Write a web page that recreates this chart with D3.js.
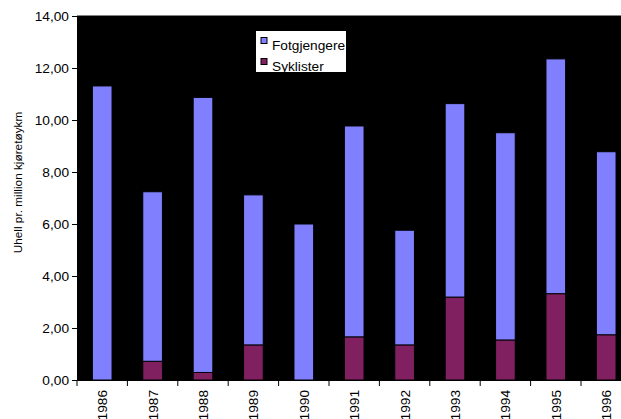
<!DOCTYPE html>
<html>
<head>
<meta charset="utf-8">
<script src="https://cdn.jsdelivr.net/npm/d3@7"></script>
<style>
  html, body { margin: 0; padding: 0; background: #fff; }
  svg { display: block; font-family: "Liberation Sans", Arial, sans-serif; }
</style>
</head>
<body>
<svg id="chart" width="621" height="419"></svg>
<script>
const years = ["1986","1987","1988","1989","1990","1991","1992","1993","1994","1995","1996"];
const fotgjengere = [11.31, 6.52, 10.58, 5.77, 6.00, 8.11, 4.41, 7.44, 7.97, 9.03, 7.04];
const syklister = [0, 0.72, 0.29, 1.35, 0, 1.66, 1.35, 3.19, 1.54, 3.32, 1.74];
const seriesNames = ["Syklister", "Fotgjengere"];
const yTicks = [0, 2, 4, 6, 8, 10, 12, 14];
const yTitle = "Uhell pr. million kjøretøykm";

const colors = { "Fotgjengere": "#8080FF", "Syklister": "#802060" };

const svg = d3.select("#chart");
const pLeft = 77, pRight = 631.4, pTop = 16, pBottom = 380;

const x = d3.scaleBand().domain(years).range([pLeft, pRight]).paddingInner(0.61).paddingOuter(0.305);
const y = d3.scaleLinear().domain([0, 14]).range([pBottom, pTop]);

const table = years.map((yr, i) => ({ year: yr, Syklister: syklister[i], Fotgjengere: fotgjengere[i] }));
const stacked = d3.stack().keys(seriesNames)(table);

// plot background
svg.append("rect").attr("x", pLeft).attr("y", pTop).attr("width", pRight - pLeft).attr("height", pBottom - pTop).attr("fill", "#000");
svg.append("line").attr("x1", pLeft).attr("x2", pRight).attr("y1", pTop - 0.5).attr("y2", pTop - 0.5).attr("stroke", "#808080").attr("stroke-width", 1);

// bars
svg.append("g").selectAll("g").data(stacked).join("g")
  .attr("fill", d => colors[d.key])
  .selectAll("rect").data(d => d).join("rect")
  .attr("x", d => x(d.data.year))
  .attr("width", x.bandwidth())
  .attr("y", d => y(d[1]))
  .attr("height", d => Math.max(0, y(d[0]) - y(d[1])))
  .attr("stroke", "#000")
  .attr("stroke-width", 1);

// y axis
const fmt = v => d3.format(".2f")(v).replace(".", ",");
const yAxis = svg.append("g").attr("transform", `translate(${pLeft},0)`)
  .call(d3.axisLeft(y).tickValues(yTicks).tickFormat(fmt).tickSize(5).tickPadding(3));
yAxis.attr("font-family", "Liberation Sans, Arial, sans-serif");
yAxis.select(".domain").attr("stroke", "#000");
yAxis.selectAll("text").attr("font-size", "13.7px").attr("fill", "#000");

// x axis
const xAxis = svg.append("g").attr("transform", `translate(0,${pBottom})`)
  .call(d3.axisBottom(x).tickSize(0).tickFormat(""));
xAxis.select(".domain").attr("stroke", "#000");
// category boundary ticks
const step = x.step();
const boundaries = years.map((yr, i) => pLeft + i * step);
svg.append("g").selectAll("line").data(boundaries).join("line")
  .attr("x1", d => d).attr("x2", d => d)
  .attr("y1", pBottom).attr("y2", pBottom + 6)
  .attr("stroke", "#000");
// rotated labels
svg.append("g").selectAll("text").data(years).join("text")
  .attr("transform", d => `translate(${x(d) + x.bandwidth() / 2 + 5},${pBottom + 10}) rotate(-90)`)
  .attr("text-anchor", "end")
  .attr("font-size", "13.7px")
  .attr("fill", "#000")
  .text(d => d);

// y title
svg.append("text")
  .attr("transform", `translate(22,182.5) rotate(-90)`)
  .attr("text-anchor", "middle")
  .attr("font-size", "11.8px")
  .attr("fill", "#000")
  .text(yTitle);

// legend
const lg = svg.append("g");
const lx = 256, ly = 31, lw = 90, lh = 41;
svg.append("defs").append("clipPath").attr("id", "lgclip")
  .append("rect").attr("x", lx).attr("y", ly).attr("width", lw).attr("height", lh);
lg.append("rect").attr("x", lx).attr("y", ly).attr("width", lw).attr("height", lh).attr("fill", "#fff");
const legendItems = ["Fotgjengere", "Syklister"];
const li = lg.append("g").attr("clip-path", "url(#lgclip)").selectAll("g").data(legendItems).join("g")
  .attr("transform", (d, i) => `translate(${lx},${ly + i * 21})`);
li.append("rect").attr("x", 5).attr("y", 6.5).attr("width", 6).attr("height", 6)
  .attr("fill", d => colors[d]).attr("stroke", "#000").attr("stroke-width", 1);
li.append("text").attr("x", 16).attr("y", 18.5).attr("font-size", "13.7px").attr("fill", "#000").text(d => d);
</script>
</body>
</html>
